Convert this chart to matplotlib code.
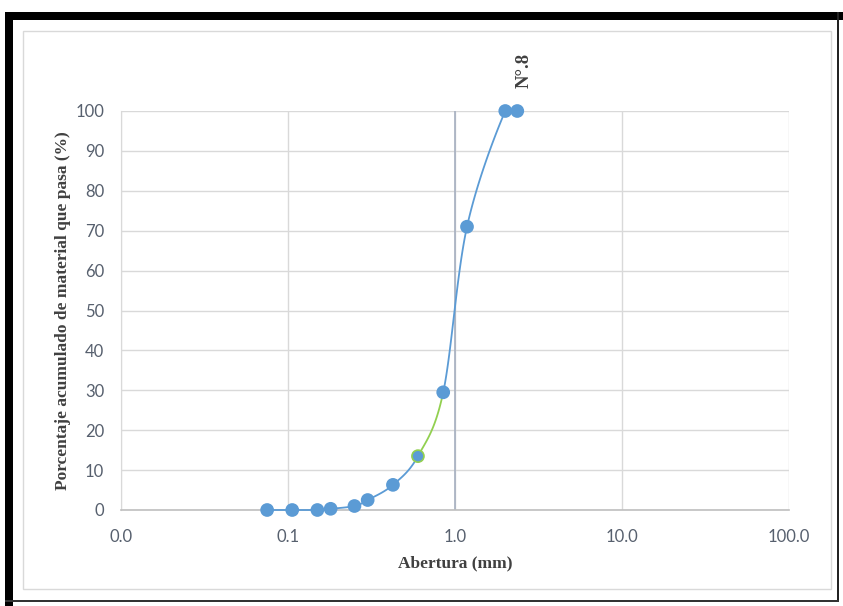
import numpy as np
import matplotlib
matplotlib.use("Agg")
import matplotlib.pyplot as plt
from matplotlib.patches import Rectangle

# Data
abertura_mm = [0.075, 0.106, 0.15, 0.18, 0.25, 0.3, 0.425, 0.6, 0.85, 1.18, 2.0, 2.36]
pasa_pct = [0.0, 0.0, 0.0, 0.3, 1.0, 2.5, 6.3, 13.5, 29.5, 71.0, 100.0, 100.0]
x_ticks = [0.01, 0.1, 1.0, 10.0, 100.0]
x_tick_labels = ["0.0", "0.1", "1.0", "10.0", "100.0"]
y_ticks = list(range(0, 101, 10))
highlight_segment = (7, 8)   # indices of segment drawn in green
ref_line_x = 1.0
ref_label = "N°.8"

W, H = 843, 606
fig = plt.figure(figsize=(W / 100, H / 100), dpi=100)
fig.patch.set_facecolor("white")

def px_rect(x0, y0, x1, y1, **kw):
    fig.patches.append(Rectangle((x0 / W, 1 - y1 / H), (x1 - x0) / W, (y1 - y0) / H,
                                 transform=fig.transFigure, **kw))

# outer black frame
px_rect(5, 12, 843, 20, facecolor="black", edgecolor="none")
px_rect(5, 12, 13, 606, facecolor="black", edgecolor="none")
px_rect(837, 12, 839, 602, facecolor="#222222", edgecolor="none")
px_rect(5, 600, 839, 602, facecolor="#333333", edgecolor="none")
# chart area border
px_rect(22.5, 30.5, 830.5, 588.5, facecolor="none", edgecolor="#d9d9d9", linewidth=1)

L, R, T, B = 121, 789, 111, 510
ax = fig.add_axes([L / W, 1 - B / H, (R - L) / W, (B - T) / H])
ax.set_xscale("log")
ax.set_xlim(0.01, 100)
ax.set_ylim(0, 100)
ax.set_xticks(x_ticks)
ax.set_xticklabels(x_tick_labels)
ax.set_yticks(y_ticks)
ax.minorticks_off()
ax.tick_params(length=0, labelsize=12, labelcolor="#57606e")
ax.tick_params(axis="y", pad=12)
ax.tick_params(axis="x", pad=14)
for lab in ax.get_xticklabels() + ax.get_yticklabels():
    lab.set_family("Lato")
ax.grid(True, color="#d9d9d9", linewidth=1)
ax.set_axisbelow(True)
for s in ["top", "right"]:
    ax.spines[s].set_visible(False)
ax.spines["left"].set_color("#d9d9d9")
ax.spines["bottom"].set_color("#bfbfbf")
ax.spines["bottom"].set_linewidth(1.2)
ax.axvline(ref_line_x, color="#a6afc0", linewidth=1.2, zorder=1)

# Excel-like smoothing (Bezier through points) in display-proportional space
lx = np.log10(abertura_mm)
y = np.array(pasa_pct)
sx, sy = 167.0, 3.99
u, v = lx * sx, y * sy
n = len(u)
segs = []
for i in range(n - 1):
    p0 = np.array([u[max(i - 1, 0)], v[max(i - 1, 0)]])
    p1 = np.array([u[i], v[i]])
    p2 = np.array([u[i + 1], v[i + 1]])
    p3 = np.array([u[min(i + 2, n - 1)], v[min(i + 2, n - 1)]])
    c1 = p1 + (p2 - p0) / 6
    c2 = p2 - (p3 - p1) / 6
    t = np.linspace(0, 1, 40)[:, None]
    pts = (1 - t) ** 3 * p1 + 3 * (1 - t) ** 2 * t * c1 + 3 * (1 - t) * t ** 2 * c2 + t ** 3 * p2
    ys = np.clip(pts[:, 1] / sy, 0, 100)
    segs.append((i, 10 ** (pts[:, 0] / sx), ys))

for i, xs, ys in segs:
    col = "#92d050" if (i, i + 1) == highlight_segment else "#5b9bd5"
    ax.plot(xs, ys, color=col, linewidth=1.3, zorder=3, clip_on=False)

edge = ["#5b9bd5"] * n
edge[highlight_segment[0]] = "#92d050"
ax.scatter(abertura_mm, pasa_pct, s=75, color="#5b9bd5", edgecolors=edge,
           linewidths=1.2, zorder=4, clip_on=False)

ax.set_xlabel("Abertura (mm)", family="Liberation Serif", fontweight="bold",
              fontsize=12.5, color="#404040", labelpad=7)
ax.set_ylabel("Porcentaje acumulado de material que pasa (%)", family="Liberation Serif",
              fontweight="bold", fontsize=12.5, color="#404040", labelpad=3)

fig.text(524 / W, 1 - 70 / H, ref_label, rotation=90, ha="center", va="center",
         family="Liberation Serif", fontweight="bold", fontsize=13.5, color="#404040")

fig.savefig("out.png", dpi=100)
